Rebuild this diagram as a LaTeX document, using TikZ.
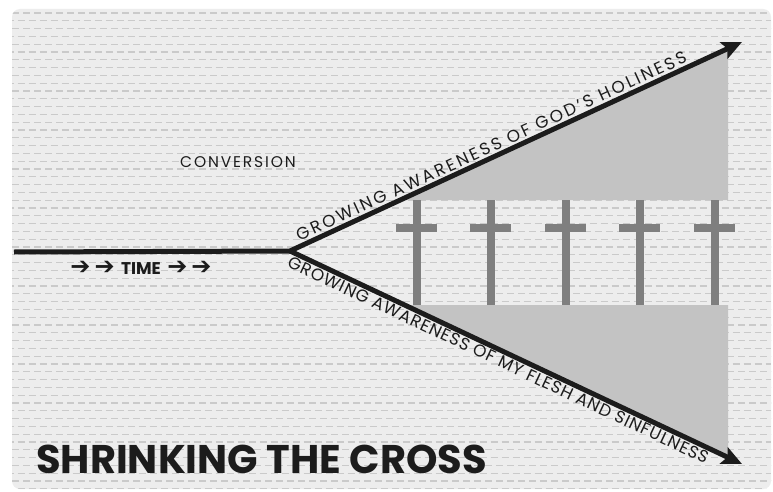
\documentclass[tikz,border=0pt]{standalone}
\usepackage{fontspec}
\setmainfont{Poppins}
\newfontfamily\arrowfont{DejaVu Sans}
\usetikzlibrary{arrows.meta}
\definecolor{bgc}{HTML}{EDEDED}
\definecolor{dashc}{HTML}{CACACA}
\definecolor{fillc}{HTML}{C3C3C3}
\definecolor{crossc}{HTML}{7F7F7F}
\definecolor{inkc}{HTML}{1C1C1C}
\tikzset{
  mainline/.style={line width=5pt, draw=inkc, line join=miter},
  tipped/.style={mainline, -{Stealth[length=20pt,width=18pt,inset=4pt]}},
  grayband/.style={fill=fillc, draw=none},
  crossbar/.style={fill=crossc, draw=none},
  lbl/.style={text=inkc, font=\fontsize{17}{19}\selectfont, inner sep=1.5pt},
  bgrow/.style={draw=dashc, line width=1.2pt, dash pattern=on 7pt off 4pt},
}
\begin{document}
\begin{tikzpicture}[x=1pt,y=-1pt]
\useasboundingbox (0,0) rectangle (773,492);
\fill[white] (0,0) rectangle (773,492);
% background
\fill[bgc, rounded corners=8pt] (12,9) rectangle (771,489);
\begin{scope}
  \clip[rounded corners=8pt] (12,9) rectangle (771,489);
  \foreach \i in {0,...,61} {
    \pgfmathsetmacro{\yy}{13+7.8*\i}
    \pgfmathsetmacro{\ph}{mod(\i,2)*5.5}
    \draw[bgrow, dash phase=\ph pt] (12,\yy) -- (771,\yy);
  }
\end{scope}
% coordinates
\coordinate (start) at (14,252);
\coordinate (split) at (290,251);
\coordinate (uptip) at (742,42);
\coordinate (lowtip) at (742,464);
% gray bands
\fill[grayband] (398.7,200) -- (728,48.5) -- (728,200) -- cycle;
\fill[grayband] (402.5,305) -- (728,458.5) -- (728,305) -- cycle;
% crosses
\foreach \c in {417,491,566,640,715} {
  \fill[crossbar] (\c-4,200) rectangle (\c+4,305);
  \fill[crossbar] (\c-21,224) rectangle (\c+20,232);
}
% lines
\draw[tipped] (start) -- (split) -- (uptip);
\draw[tipped] (split) -- (lowtip);
% labels
\path (split) -- (uptip) node[lbl, pos=0.455, sloped, above=3pt] (uplbl) {\addfontfeature{LetterSpace=15}GROWING AWARENESS OF GOD’S HOLINESS};
\path (split) -- (lowtip) node[lbl, pos=0.47, sloped, below=2pt] (lowlbl) {\addfontfeature{LetterSpace=5}GROWING AWARENESS OF MY FLESH AND SINFULNESS};
\node[lbl, anchor=center, font=\fontsize{15.5}{17}\selectfont] (conv) at (238,162) {\addfontfeature{LetterSpace=12}CONVERSION};
\node[text=inkc, anchor=center, font=\fontsize{17}{19}\selectfont\bfseries] (time) at (141,268) {{\arrowfont\bfseries\fontsize{24}{24}\selectfont ➔\,➔}\, TIME\, {\arrowfont\bfseries\fontsize{24}{24}\selectfont ➔\,➔}};
\node[text=inkc, anchor=west, font=\fontsize{40}{42}\selectfont\bfseries, inner sep=0pt] (title) at (36,459) {SHRINKING THE CROSS};
\end{tikzpicture}
\end{document}
